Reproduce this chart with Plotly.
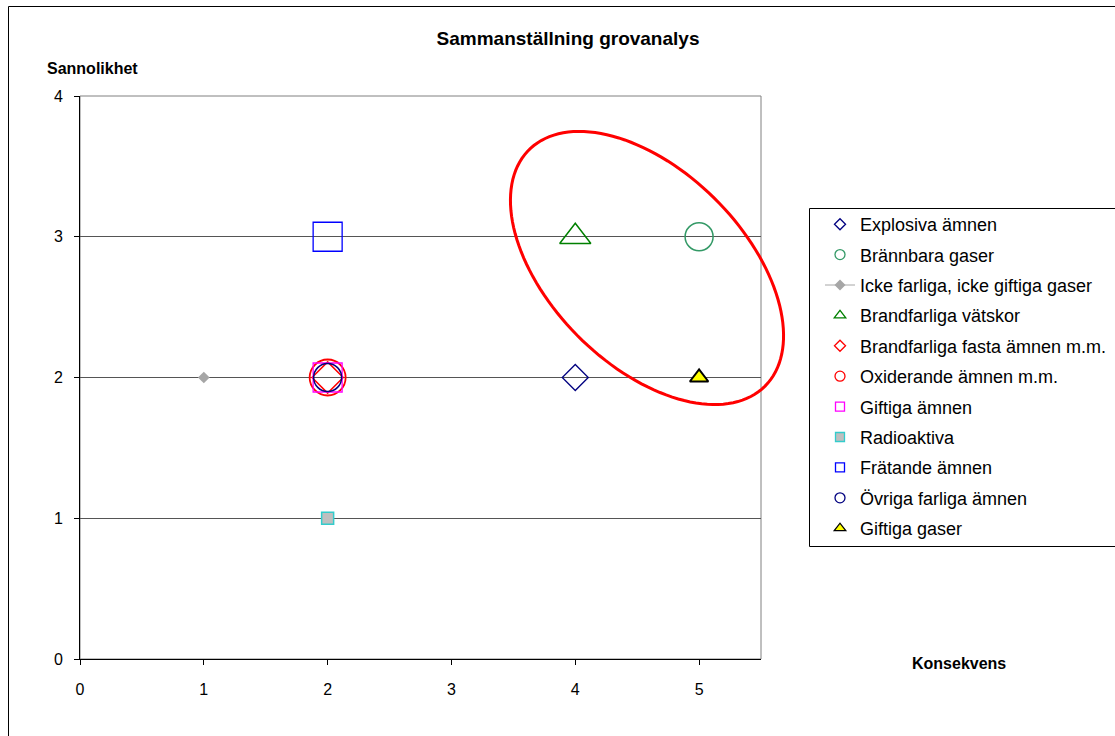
import numpy as np
import plotly.graph_objects as go

# ---- data ----
series_names = [
    "Explosiva ämnen",
    "Brännbara gaser",
    "Icke farliga, icke giftiga gaser",
    "Brandfarliga vätskor",
    "Brandfarliga fasta ämnen m.m.",
    "Oxiderande ämnen m.m.",
    "Giftiga ämnen",
    "Radioaktiva",
    "Frätande ämnen",
    "Övriga farliga ämnen",
    "Giftiga gaser",
]
konsekvens = [4, 5, 1, 4, 2, 2, 2, 2, 2, 2, 5]
sannolikhet = [2, 3, 2, 3, 2, 2, 2, 1, 3, 2, 2]
x_ticks = [0, 1, 2, 3, 4, 5]
y_ticks = [0, 1, 2, 3, 4]

# ---- styles ----
styles = [
    dict(symbol="diamond-open", color="#000080", size=20, lw=1.3, fill=None, lsize=8.5),
    dict(symbol="circle-open", color="#339966", size=28, lw=1.5, fill=None, lsize=10),
    dict(symbol="diamond", color="#A6A6A6", size=9, lw=0, fill="#A6A6A6", lsize=8.5),
    dict(symbol="triangle-up-open", color="#008000", size=27, lw=1.5, fill=None, lsize=10),
    dict(symbol="diamond-open", color="#FF0000", size=24, lw=1.5, fill=None, lsize=8.5),
    dict(symbol="circle-open", color="#FF0000", size=36, lw=1.8, fill=None, lsize=10),
    dict(symbol="square-open", color="#FF00FF", size=29, lw=1.3, fill=None, lsize=9),
    dict(symbol="square", color="#33CCCC", size=12, lw=1.5, fill="#BFBFBF", lsize=9),
    dict(symbol="square-open", color="#0000FF", size=29, lw=1.3, fill=None, lsize=9),
    dict(symbol="circle-open", color="#000080", size=28, lw=1.5, fill=None, lsize=10),
    dict(symbol="triangle-up", color="#000000", size=16, lw=2, fill="#FFFF00", lsize=10),
]

W, H = 1115, 736
ML, MR, MT, MB = 80, 354, 96, 77
X_RANGE = [0, 5.5]
Y_RANGE = [0, 4]
pw = W - ML - MR
ph = H - MT - MB


def px2paper_x(p):
    return (p - ML) / pw


def px2paper_y(p):
    return (H - MB - p) / ph


fig = go.Figure()
for i, name in enumerate(series_names):
    s = styles[i]
    fillc = s["color"] if s["fill"] is None else s["fill"]
    # real marks
    fig.add_trace(go.Scatter(
        x=[konsekvens[i]], y=[sannolikhet[i]], name=name, mode="markers",
        marker=dict(symbol=s["symbol"], size=s["size"], color=fillc,
                    line=dict(color=s["color"], width=s["lw"])),
        legendgroup=f"g{i}", showlegend=False, cliponaxis=False,
    ))
for i, name in enumerate(series_names):
    s = styles[i]
    fillc = s["color"] if s["fill"] is None else s["fill"]
    # legend entries (no drawn points)
    fig.add_trace(go.Scatter(
        x=[None], y=[None], name=name,
        mode="lines+markers" if i == 2 else "markers",
        marker=dict(symbol=s["symbol"], size=s["lsize"], color=fillc,
                    line=dict(color=s["color"], width=min(s["lw"], 1.3) if s["lw"] else 0)),
        line=dict(color="#A6A6A6", width=1),
        legendgroup=f"g{i}", showlegend=True,
    ))

# ---- ellipse highlight (pixel geometry -> paper coordinates, not clipped) ----
e_cx, e_cy = 647, 268         # centre, pixels
e_a, e_b = 167, 97            # semi-axes, pixels
e_ang = np.deg2rad(45)        # major axis from upper-left to lower-right
t = np.linspace(0, 2 * np.pi, 140)
ex_px = e_cx + e_a * np.cos(t) * np.cos(e_ang) - e_b * np.sin(t) * np.sin(e_ang)
ey_px = e_cy + e_a * np.cos(t) * np.sin(e_ang) + e_b * np.sin(t) * np.cos(e_ang)
path = "M " + " L ".join(
    f"{px2paper_x(a):.5f},{px2paper_y(b):.5f}" for a, b in zip(ex_px, ey_px)) + " Z"

shapes = [
    # plot-area frame (top/right)
    dict(type="rect", xref="paper", yref="paper", x0=0, x1=1, y0=0, y1=1,
         line=dict(color="#808080", width=1), layer="below"),
    # outer chart border
    dict(type="rect", xref="paper", yref="paper",
         x0=px2paper_x(8.5), x1=px2paper_x(W + 20),
         y0=px2paper_y(H + 20), y1=px2paper_y(6.5),
         line=dict(color="#000000", width=1), layer="below"),
    # legend box
    dict(type="rect", xref="paper", yref="paper",
         x0=px2paper_x(809.5), x1=px2paper_x(W + 20),
         y0=px2paper_y(546.5), y1=px2paper_y(208.5),
         line=dict(color="#000000", width=1), fillcolor="white", layer="below"),
    dict(type="path", path=path, xref="paper", yref="paper",
         line=dict(color="#FF0000", width=3), layer="above"),
]

font_family = "Liberation Sans, Arial, sans-serif"

fig.update_layout(
    width=W, height=H,
    margin=dict(l=ML, r=MR, t=MT, b=MB, autoexpand=False),
    paper_bgcolor="white", plot_bgcolor="white",
    font=dict(family=font_family, size=15, color="black"),
    title=dict(text="<b>Sammanställning grovanalys</b>", x=568 / W, xanchor="center",
               y=1 - 38 / H, yanchor="middle", font=dict(size=19)),
    xaxis=dict(range=X_RANGE, tickvals=x_ticks, showgrid=False, zeroline=False,
               showline=True, linecolor="black", linewidth=1,
               ticks="outside", ticklen=5, tickcolor="black",
               ticklabelstandoff=11, tickfont=dict(size=16)),
    yaxis=dict(range=Y_RANGE, tickvals=y_ticks, showgrid=True, gridcolor="#555555",
               gridwidth=1, zeroline=False, showline=True, linecolor="black",
               linewidth=1, ticks="outside", ticklen=5, tickcolor="black",
               ticklabelstandoff=8, tickfont=dict(size=16)),
    shapes=shapes,
    showlegend=True,
    legend=dict(x=px2paper_x(820), y=px2paper_y(206), xanchor="left", yanchor="top",
                borderwidth=0, bgcolor="rgba(0,0,0,0)",
                font=dict(size=18), itemsizing="trace", tracegroupgap=4,
                traceorder="grouped"),
    annotations=[
        dict(text="<b>Sannolikhet</b>", x=px2paper_x(92), y=px2paper_y(68),
             xref="paper", yref="paper", xanchor="center", yanchor="middle",
             showarrow=False, font=dict(size=16)),
        dict(text="<b>Konsekvens</b>", x=px2paper_x(959), y=px2paper_y(663),
             xref="paper", yref="paper", xanchor="center", yanchor="middle",
             showarrow=False, font=dict(size=16)),
    ],
)

fig.write_html("out.html", config={"displayModeBar": False},
               post_script="document.body.style.margin='0px';")
